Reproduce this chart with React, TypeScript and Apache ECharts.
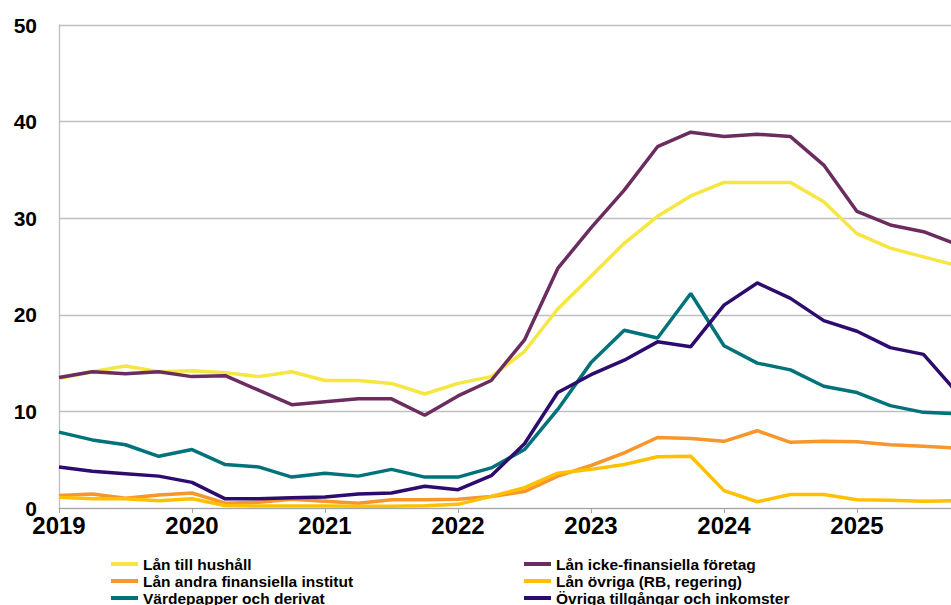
import React, { useEffect, useRef } from "react";
import * as echarts from "echarts";

const startYear = 2019;
const quarters: number[] = Array.from({ length: 28 }, (_, i) => startYear + i / 4);

const seriesNames = [
  "Lån till hushåll",
  "Lån icke-finansiella företag",
  "Lån andra finansiella institut",
  "Lån övriga (RB, regering)",
  "Värdepapper och derivat",
  "Övriga tillgångar och inkomster",
];

const lanHushall = [13.4, 14.1, 14.7, 14.1, 14.2, 14.0, 13.6, 14.1, 13.2, 13.2, 12.9, 11.8, 12.9, 13.6, 16.2, 20.6, 24.0, 27.4, 30.2, 32.3, 33.7, 33.7, 33.7, 31.7, 28.4, 26.9, 26.0, 25.1];
const lanIckeFin = [13.5, 14.1, 13.9, 14.1, 13.6, 13.7, 12.2, 10.7, 11.0, 11.3, 11.3, 9.6, 11.6, 13.2, 17.4, 24.8, 29.0, 32.9, 37.4, 38.9, 38.45, 38.7, 38.45, 35.5, 30.7, 29.3, 28.6, 27.3];
const lanAndraFin = [1.3, 1.45, 1.0, 1.35, 1.55, 0.5, 0.6, 0.9, 0.7, 0.5, 0.85, 0.85, 0.9, 1.2, 1.7, 3.3, 4.4, 5.7, 7.3, 7.2, 6.9, 8.0, 6.8, 6.9, 6.85, 6.55, 6.4, 6.2];
const lanOvriga = [1.1, 0.95, 0.95, 0.75, 0.95, 0.25, 0.2, 0.2, 0.2, 0.17, 0.17, 0.24, 0.38, 1.2, 2.1, 3.6, 4.0, 4.5, 5.3, 5.35, 1.8, 0.65, 1.4, 1.4, 0.85, 0.8, 0.7, 0.75];
const vardepapper = [7.85, 7.05, 6.55, 5.35, 6.05, 4.5, 4.25, 3.2, 3.6, 3.3, 4.0, 3.2, 3.2, 4.15, 6.05, 10.2, 15.05, 18.4, 17.6, 22.2, 16.8, 15.0, 14.3, 12.6, 11.95, 10.6, 9.9, 9.75];
const ovrigaTillg = [4.25, 3.8, 3.55, 3.3, 2.65, 0.95, 0.95, 1.05, 1.15, 1.45, 1.55, 2.25, 1.9, 3.35, 6.65, 11.95, 13.8, 15.3, 17.2, 16.7, 21.0, 23.3, 21.7, 19.4, 18.3, 16.6, 15.9, 12.0];

const allValues = [lanHushall, lanIckeFin, lanAndraFin, lanOvriga, vardepapper, ovrigaTillg];
const colors = ["#F5E642", "#6B2C5F", "#F7962A", "#FFC000", "#00727A", "#2E0B6E"];

const yTicks = [0, 10, 20, 30, 40, 50];

export default function App() {
  const ref = useRef<HTMLDivElement>(null);
  useEffect(() => {
    if (!ref.current) return;
    const chart = echarts.init(ref.current, undefined, { renderer: "svg" });
    const legendText = {
      fontFamily: "Liberation Sans, Arial, sans-serif",
      fontWeight: "bold" as const,
      fontSize: 15.5,
      lineHeight: 15,
      color: "#000",
    };
    chart.setOption({
      animation: false,
      backgroundColor: "#fff",
      grid: { left: 59, top: 25, right: 0, bottom: 97, containLabel: false },
      xAxis: {
        type: "value",
        min: startYear,
        max: startYear + (951 - 59) / 133,
        interval: 1,
        splitLine: { show: false },
        axisLine: { show: true, lineStyle: { color: "#A6A6A6", width: 1 } },
        axisTick: { show: true, length: 5, lineStyle: { color: "#A6A6A6" } },
        axisLabel: {
          showMaxLabel: false,
          margin: 5,
          color: "#000",
          fontWeight: "bold",
          fontSize: 24,
          fontFamily: "Liberation Sans, Arial, sans-serif",
          formatter: (v: number) => String(Math.round(v)),
        },
      },
      yAxis: {
        type: "value",
        min: yTicks[0],
        max: yTicks[yTicks.length - 1],
        interval: 10,
        splitLine: { show: true, lineStyle: { color: "#BFBFBF", width: 1.3 } },
        axisLine: { show: true, lineStyle: { color: "#BFBFBF", width: 1.3 } },
        axisTick: { show: false },
        axisLabel: {
          margin: 22,
          color: "#000",
          fontWeight: "bold",
          fontSize: 21,
          fontFamily: "Liberation Sans, Arial, sans-serif",
        },
      },
      legend: [
        {
          data: [seriesNames[0], seriesNames[2], seriesNames[4]],
          orient: "vertical",
          left: 111,
          top: 556,
          width: 380,
          height: 70,
          padding: 0,
          itemGap: 1,
          itemWidth: 27,
          itemHeight: 4,
          icon: "rect",
          textStyle: legendText,
        },
        {
          data: [seriesNames[1], seriesNames[3], seriesNames[5]],
          orient: "vertical",
          left: 524,
          top: 556,
          width: 400,
          height: 70,
          padding: 0,
          itemGap: 1,
          itemWidth: 27,
          itemHeight: 4,
          icon: "rect",
          textStyle: legendText,
        },
      ],
      series: seriesNames.map((name, k) => ({
        name,
        type: "line",
        showSymbol: false,
        symbol: "none",
        clip: true,
        color: colors[k],
        lineStyle: { color: colors[k], width: 3.5 },
        itemStyle: { color: colors[k] },
        data: quarters.map((q, i) => [q, allValues[k][i]]),
      })),
    });
    return () => chart.dispose();
  }, []);
  return (
    <div
      ref={ref}
      style={{ position: "absolute", left: 0, top: 0, width: 951, height: 605 }}
    />
  );
}
